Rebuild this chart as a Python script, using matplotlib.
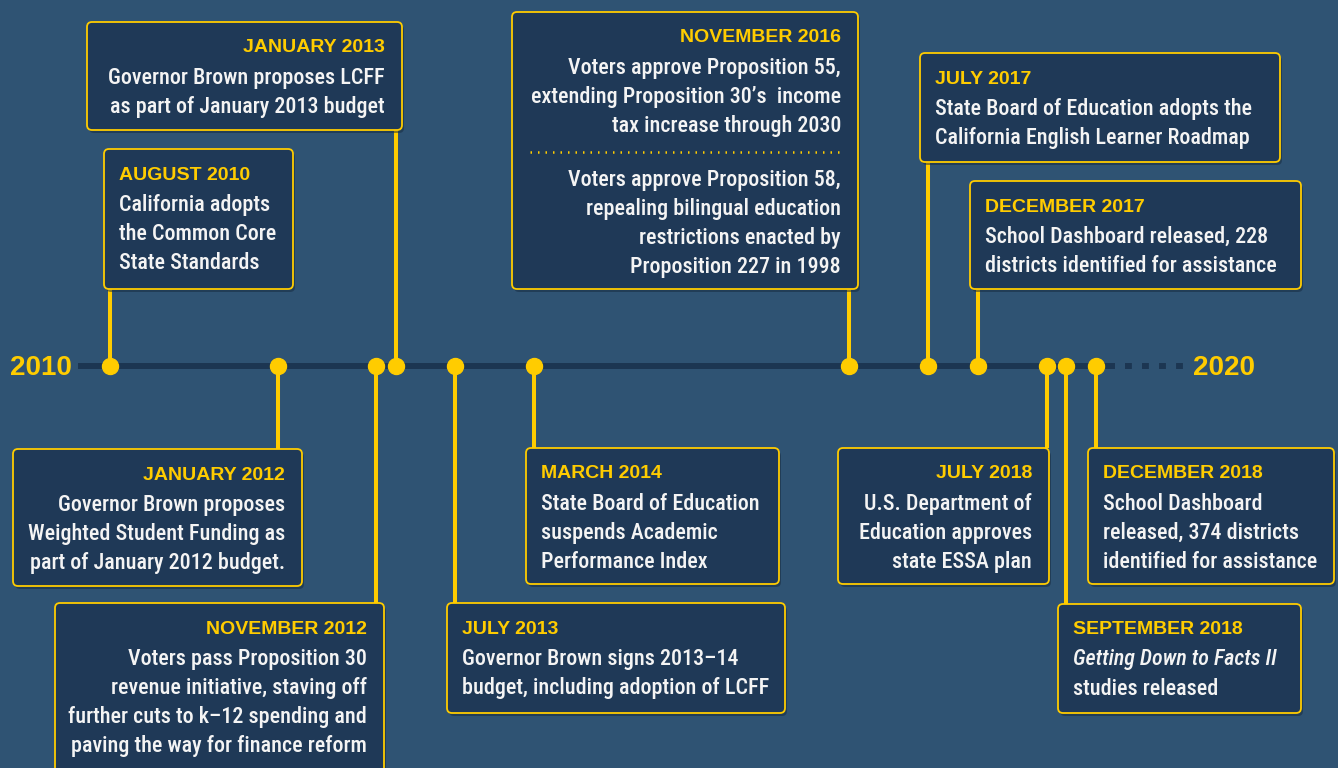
import matplotlib.pyplot as plt
from matplotlib.patches import FancyBboxPatch

# events on the timeline
years = [2010, 2012, 2012, 2013, 2013, 2014, 2016, 2017, 2017, 2018, 2018, 2018]
months = [8, 1, 11, 1, 7, 3, 11, 7, 12, 7, 9, 12]
headers = ["AUGUST 2010", "JANUARY 2012", "NOVEMBER 2012", "JANUARY 2013",
           "JULY 2013", "MARCH 2014", "NOVEMBER 2016", "JULY 2017",
           "DECEMBER 2017", "JULY 2018", "SEPTEMBER 2018", "DECEMBER 2018"]
bodies = [
    ["California adopts", "the Common Core", "State Standards"],
    ["Governor Brown proposes", "Weighted Student Funding as", "part of January 2012 budget."],
    ["Voters pass Proposition 30", "revenue initiative, staving off",
     "further cuts to k\u201312 spending and", "paving the way for finance reform"],
    ["Governor Brown proposes LCFF", "as part of January 2013 budget"],
    ["Governor Brown signs 2013\u201314", "budget, including adoption of LCFF"],
    ["State Board of Education", "suspends Academic", "Performance Index"],
    ["Voters approve Proposition 55,", "extending Proposition 30\u2019s  income",
     "tax increase through 2030", "---",
     "Voters approve Proposition 58,", "repealing bilingual education",
     "restrictions enacted by", "Proposition 227 in 1998"],
    ["State Board of Education adopts the", "California English Learner Roadmap"],
    ["School Dashboard released, 228", "districts identified for assistance"],
    ["U.S. Department of", "Education approves", "state ESSA plan"],
    ["*Getting Down to Facts II", "studies released"],
    ["School Dashboard", "released, 374 districts", "identified for assistance"],
]

# box layout in pixels: left, top, right, bottom, text alignment
boxes = [
    (104, 149, 293, 289, "left"),
    (13, 449, 302, 586, "right"),
    (55, 603, 384, 790, "right"),
    (87, 22, 402, 130, "right"),
    (447, 603, 785, 713, "left"),
    (526, 448, 779, 584, "left"),
    (512, 12, 858, 289, "right"),
    (920, 53, 1280, 162, "left"),
    (970, 181, 1301, 289, "left"),
    (838, 448, 1049, 584, "right"),
    (1058, 604, 1301, 713, "left"),
    (1088, 448, 1334, 584, "left"),
]

W, H = 1338, 768
bg = "#2F5373"
box_fc = "#1F3957"
yellow = "#FFCC00"
dark = "#1C3652"
white = "#F4F4F4"
body_font = ["Roboto Condensed", "Roboto", "DejaVu Sans"]
head_font = ["Liberation Sans", "DejaVu Sans"]

line_y = 366
px_per_year = 118.3
yr0 = 2010 + 7 / 12 - 110 / px_per_year


def px2yr(px):
    return yr0 + px / px_per_year


fig = plt.figure(figsize=(W / 100, H / 100), dpi=100)
fig.patch.set_facecolor(bg)
ax = fig.add_axes([0, 0, 1, 1])
ax.set_xlim(px2yr(0), px2yr(W))
ax.set_ylim(H, 0)
ax.axis("off")

lay = fig.add_axes([0, 0, 1, 1])
lay.set_xlim(0, W)
lay.set_ylim(H, 0)
lay.axis("off")
lay.patch.set_alpha(0)

# main line
ax.plot([px2yr(78), px2yr(1115)], [line_y, line_y], color=dark, lw=4.3,
        solid_capstyle="butt", zorder=1)
ax.plot([px2yr(1125), px2yr(1185)], [line_y, line_y], color=dark, lw=4.3,
        linestyle=(0, (1.15, 1.7)), zorder=1)
ax.text(px2yr(10), line_y + 2, "2010", color=yellow, fontsize=20, fontweight="bold",
        family=head_font, ha="left", va="center")
ax.text(px2yr(1193), line_y + 2, "2020", color=yellow, fontsize=20, fontweight="bold",
        family=head_font, ha="left", va="center")

t = [y + (m - 1) / 12 for y, m in zip(years, months)]

for i in range(len(t)):
    l, tp, r, b, al = boxes[i]
    end = b if b < line_y else tp
    ax.plot([t[i], t[i]], [line_y, end], color=yellow, lw=2.9, zorder=2,
            solid_capstyle="butt")
    ax.plot(t[i], line_y, "o", color=yellow, ms=11.5, zorder=3)

    lay.add_patch(FancyBboxPatch((l + 2, tp + 3), r - l, b - tp,
                                 boxstyle="round,pad=0,rounding_size=5",
                                 fc="#15283d", ec="none", alpha=0.5, zorder=4))
    lay.add_patch(FancyBboxPatch((l, tp), r - l, b - tp,
                                 boxstyle="round,pad=0,rounding_size=5",
                                 fc=box_fc, ec=yellow, lw=1.3, zorder=5))
    tx = l + 15 if al == "left" else r - 17
    y = tp + 24
    lay.text(tx, y + 2, headers[i], color=yellow, fontsize=14, fontweight="bold",
             family=head_font, ha=al, va="center", zorder=6)
    y += 31
    for line in bodies[i]:
        if line == "---":
            y -= 2
            lay.plot([l + 18, r - 15], [y, y], color=yellow, lw=1.8,
                     linestyle=(0, (0.6, 2.4)), zorder=6)
            y += 27
            continue
        style = "normal"
        if line.startswith("*"):
            line = line[1:]
            style = "italic"
        lay.text(tx, y + 1, line, color=white, fontsize=15.8, family=body_font,
                 fontweight="medium", style=style, ha=al, va="center", zorder=6)
        y += 29

fig.savefig("out.png", dpi=100, facecolor=bg)
